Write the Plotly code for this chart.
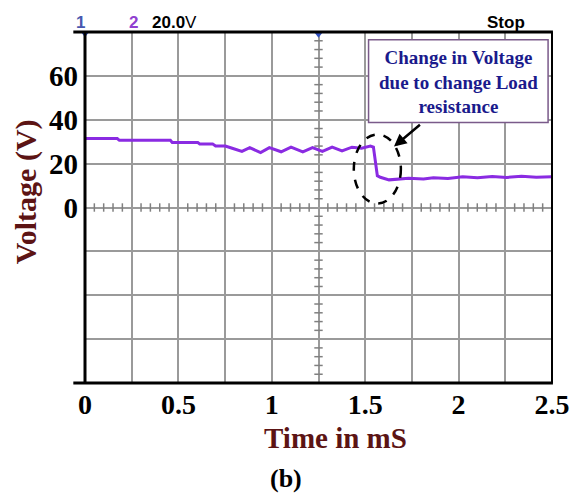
import plotly.graph_objects as go

# ---- data ----
time_ms = [0.000, 0.173, 0.184, 0.457, 0.467, 0.604, 0.614, 0.683, 0.699, 0.751,
           0.788, 0.840, 0.882, 0.940, 0.987, 1.050, 1.103, 1.166, 1.218, 1.271,
           1.323, 1.376, 1.429, 1.481, 1.528, 1.544, 1.565, 1.581, 1.628, 1.681,
           1.733, 1.812, 1.865, 1.943, 2.022, 2.101, 2.180, 2.258, 2.337, 2.416,
           2.500]
voltage_v = [31.4, 31.4, 30.6, 30.6, 29.6, 29.6, 29.0, 29.0, 28.0, 28.0,
             27.0, 25.6, 27.3, 25.0, 27.3, 25.4, 27.5, 25.4, 27.3, 25.6,
             27.5, 25.8, 27.5, 27.0, 28.0, 27.5, 14.5, 13.8, 12.6, 12.8,
             13.3, 13.0, 13.6, 13.2, 14.0, 13.6, 14.1, 13.7, 14.2, 13.8,
             14.0]

x_tickvals = [0, 0.25, 0.5, 0.75, 1.0, 1.25, 1.5, 1.75, 2.0, 2.25, 2.5]
x_ticktext = ["0", "", "0.5", "", "1", "", "1.5", "", "2", "", "2.5"]
y_tickvals = [-80, -60, -40, -20, 0, 20, 40, 60, 80]
y_ticktext = ["", "", "", "", "0", "20", "40", "60", ""]

annotation_lines = ["Change in Voltage", "due to change Load", "resistance"]

SERIF = "Liberation Serif, Times New Roman, serif"
SANS = "Liberation Sans, Arial, sans-serif"

# page has an 8px body margin; plot area wanted at x 85..561, y 32..383 of the window
OFF = 8
L, T = 85 - OFF, 32 - OFF
W, H = 582 - OFF, 494 - OFF
PW, PH = 476, 351


def px(xp):
    return (xp - 85) / PW


def py(yp):
    return (383 - yp) / PH


fig = go.Figure()

# minor ticks on centre axes (oscilloscope graticule)
mt_y = [-80 + i * 4 for i in range(41) if i % 5 != 0]
mt_x = [i * 0.05 for i in range(51) if i % 5 != 0]
fig.add_trace(go.Scatter(x=[1.25] * len(mt_y), y=mt_y, mode="markers",
                         marker=dict(symbol="line-ew", size=6,
                                     line=dict(color="#808080", width=1.5)),
                         hoverinfo="skip", showlegend=False))
fig.add_trace(go.Scatter(x=mt_x, y=[0] * len(mt_x), mode="markers",
                         marker=dict(symbol="line-ns", size=6,
                                     line=dict(color="#808080", width=1.5)),
                         hoverinfo="skip", showlegend=False))

# waveform
fig.add_trace(go.Scatter(x=time_ms, y=voltage_v, mode="lines",
                         line=dict(color="#8a2be2", width=3),
                         showlegend=False))

# scope markers
fig.add_trace(go.Scatter(x=[1.25], y=[79], mode="markers", cliponaxis=False,
                         marker=dict(symbol="triangle-down", size=7, color="#3050c0"),
                         hoverinfo="skip", showlegend=False))
fig.add_trace(go.Scatter(x=[0.0], y=[79], mode="markers", cliponaxis=False,
                         marker=dict(symbol="triangle-down", size=6, color="#3050c0"),
                         hoverinfo="skip", showlegend=False))
fig.add_trace(go.Scatter(x=[-0.03], y=[0], mode="markers", cliponaxis=False,
                         marker=dict(symbol="circle", size=7, color="#a050e0"),
                         hoverinfo="skip", showlegend=False))

fig.update_layout(
    width=W, height=H,
    margin=dict(l=L, r=W - L - PW, t=T, b=H - T - PH),
    paper_bgcolor="white", plot_bgcolor="white",
    xaxis=dict(range=[0, 2.5], tickvals=x_tickvals, ticktext=x_ticktext,
               showgrid=True, gridcolor="#9a9a9a", gridwidth=1.5,
               zeroline=False, showline=False, ticks="", ticklabelstandoff=2,
               tickfont=dict(family=SERIF, size=28, color="black", weight="bold")),
    yaxis=dict(range=[-80, 80], tickvals=y_tickvals, ticktext=y_ticktext,
               showgrid=True, gridcolor="#9a9a9a", gridwidth=1.5,
               zeroline=False, showline=False, ticks="", ticklabelstandoff=6,
               tickfont=dict(family=SERIF, size=29, color="black", weight="bold")),
)

# frame
fig.add_shape(type="line", xref="paper", yref="paper", x0=0, x1=0, y0=0, y1=1,
              line=dict(color="black", width=3))
fig.add_shape(type="line", xref="paper", yref="paper", x0=1, x1=1, y0=0, y1=1,
              line=dict(color="black", width=2))
fig.add_shape(type="line", xref="paper", yref="paper", x0=-0.025, x1=1.002, y0=1, y1=1,
              line=dict(color="black", width=3))
fig.add_shape(type="line", xref="paper", yref="paper", x0=-0.025, x1=1.002, y0=0, y1=0,
              line=dict(color="black", width=3))

# callout box
fig.add_shape(type="rect", x0=1.518, x1=2.479, y0=38.7, y1=76.5,
              line=dict(color="#7a5a8a", width=1.5), fillcolor="white", layer="above")
fig.add_annotation(x=1.998, y=57.4, text="<br>".join(annotation_lines), showarrow=False,
                   xanchor="center", yanchor="middle",
                   font=dict(family=SERIF, size=19, color="#1a1a8c", weight="bold"),
                   align="center")
# dashed ellipse
fig.add_shape(type="circle", x0=1.439, x1=1.691, y0=1.8, y1=33.3,
              line=dict(color="black", width=2.5, dash="dash"), layer="above")
# arrow
fig.add_annotation(x=1.654, y=27.8, ax=1.801, ay=38.3, axref="x", ayref="y",
                   xref="x", yref="y", text="", showarrow=True,
                   arrowhead=2, arrowsize=1, arrowwidth=2.5, arrowcolor="black")


def label(xp, yp, text, font, **kw):
    fig.add_annotation(xref="paper", yref="paper", x=px(xp), y=py(yp), text=text,
                       showarrow=False, xanchor="center", yanchor="middle",
                       font=font, **kw)


# titles
label(340, 438, "Time in mS", dict(family=SERIF, size=29, color="#5c1414", weight="bold"))
label(25, 192, "Voltage (V)", dict(family=SERIF, size=30, color="#5c1414", weight="bold"),
      textangle=-90)
label(290, 479, "(b)", dict(family=SERIF, size=26, color="black", weight="bold"))

# scope header texts
label(80, 22, "1", dict(family=SANS, size=17, color="#4858b0", weight="bold"))
label(134, 22, "2", dict(family=SANS, size=17, color="#9040d0", weight="bold"))
label(176, 22, "<b>20.0</b>V", dict(family=SANS, size=17, color="black"))
label(514, 22, "Stop", dict(family=SANS, size=17, color="black", weight="bold"))

fig.write_html("out.html")
